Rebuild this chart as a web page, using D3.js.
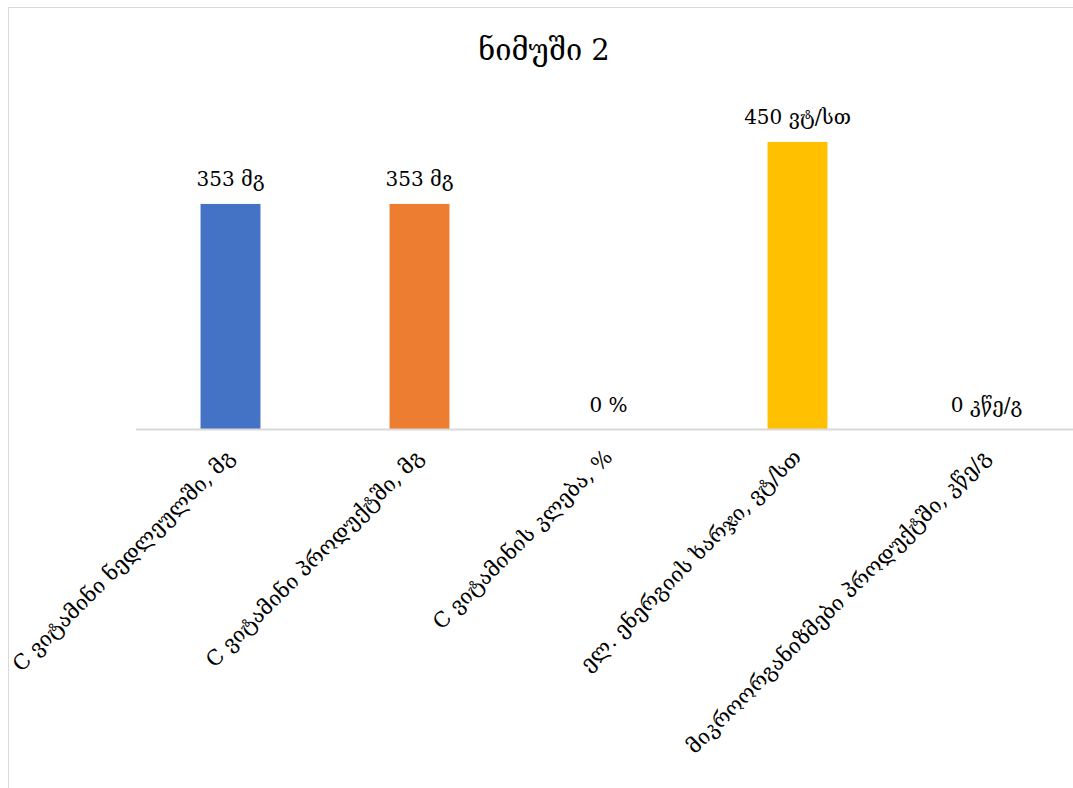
<!DOCTYPE html>
<html>
<head>
<meta charset="utf-8">
<script src="https://cdn.jsdelivr.net/npm/d3@7"></script>
<style>
  html, body { margin: 0; padding: 0; background: #fff; }
  svg { display: block; }
  text { font-family: "DejaVu Serif", serif; fill: #000; }
</style>
</head>
<body>
<svg id="chart" width="1073" height="788"></svg>
<script>
// Chart content
const title = "ნიმუში 2";
const categories = [
  "C ვიტამინი ნედლეულში, მგ",
  "C ვიტამინი პროდუქტში, მგ",
  "C ვიტამინის კლება, %",
  "ელ. ენერგიის ხარჯი, ვტ/სთ",
  "მიკროორგანიზმები პროდუქტში, კწე/გ"
];
const values = [353, 353, 0, 450, 0];
const valueLabels = ["353 მგ", "353 მგ", "0 %", "450 ვტ/სთ", "0 კწე/გ"];
const colors = ["#4472C4", "#ED7D31", "#A5A5A5", "#FFC000", "#5B9BD5"];
const yDomain = [0, 500];

const svg = d3.select("#chart");
const W = 1073, H = 788;

// chart frame
svg.append("rect")
  .attr("x", 8.5).attr("y", 7.5)
  .attr("width", W + 20).attr("height", H + 20)
  .attr("fill", "#fff").attr("stroke", "#D9D9D9").attr("stroke-width", 1);

const plot = { left: 136, right: 1081, top: 110, bottom: 429.5 };

const x = d3.scaleBand()
  .domain(categories)
  .range([plot.left, plot.right])
  .paddingInner(0.683)
  .paddingOuter(0.3415);

const y = d3.scaleLinear().domain(yDomain).range([plot.bottom, plot.top]);

// title
svg.append("text")
  .attr("x", 544).attr("y", 60)
  .attr("text-anchor", "middle")
  .attr("font-size", 29)
  .attr("font-weight", 300)
  .text(title);

// bars
svg.append("g").selectAll("rect")
  .data(values)
  .join("rect")
  .attr("x", (d, i) => x(categories[i]))
  .attr("y", d => y(d))
  .attr("width", x.bandwidth())
  .attr("height", d => y(0) - y(d))
  .attr("fill", (d, i) => colors[i]);

// value labels
svg.append("g").selectAll("text")
  .data(values)
  .join("text")
  .attr("x", (d, i) => x(categories[i]) + x.bandwidth() / 2)
  .attr("y", d => y(d) - 18)
  .attr("text-anchor", "middle")
  .attr("font-size", 20)
  .text((d, i) => valueLabels[i]);

// category axis
const xAxis = svg.append("g")
  .attr("transform", `translate(0,${plot.bottom})`)
  .call(d3.axisBottom(x).tickSize(0).tickPadding(0));
xAxis.select(".domain")
  .attr("d", `M${plot.left},0H${W + 10}`)
  .attr("stroke", "#D9D9D9").attr("stroke-width", 2);
xAxis.selectAll(".tick text")
  .attr("font-family", "DejaVu Serif, serif")
  .attr("font-size", 21)
  .attr("fill", "#000")
  .attr("text-anchor", "end")
  .attr("dy", 0)
  .attr("transform", "translate(5,29) rotate(-45)");
</script>
</body>
</html>
